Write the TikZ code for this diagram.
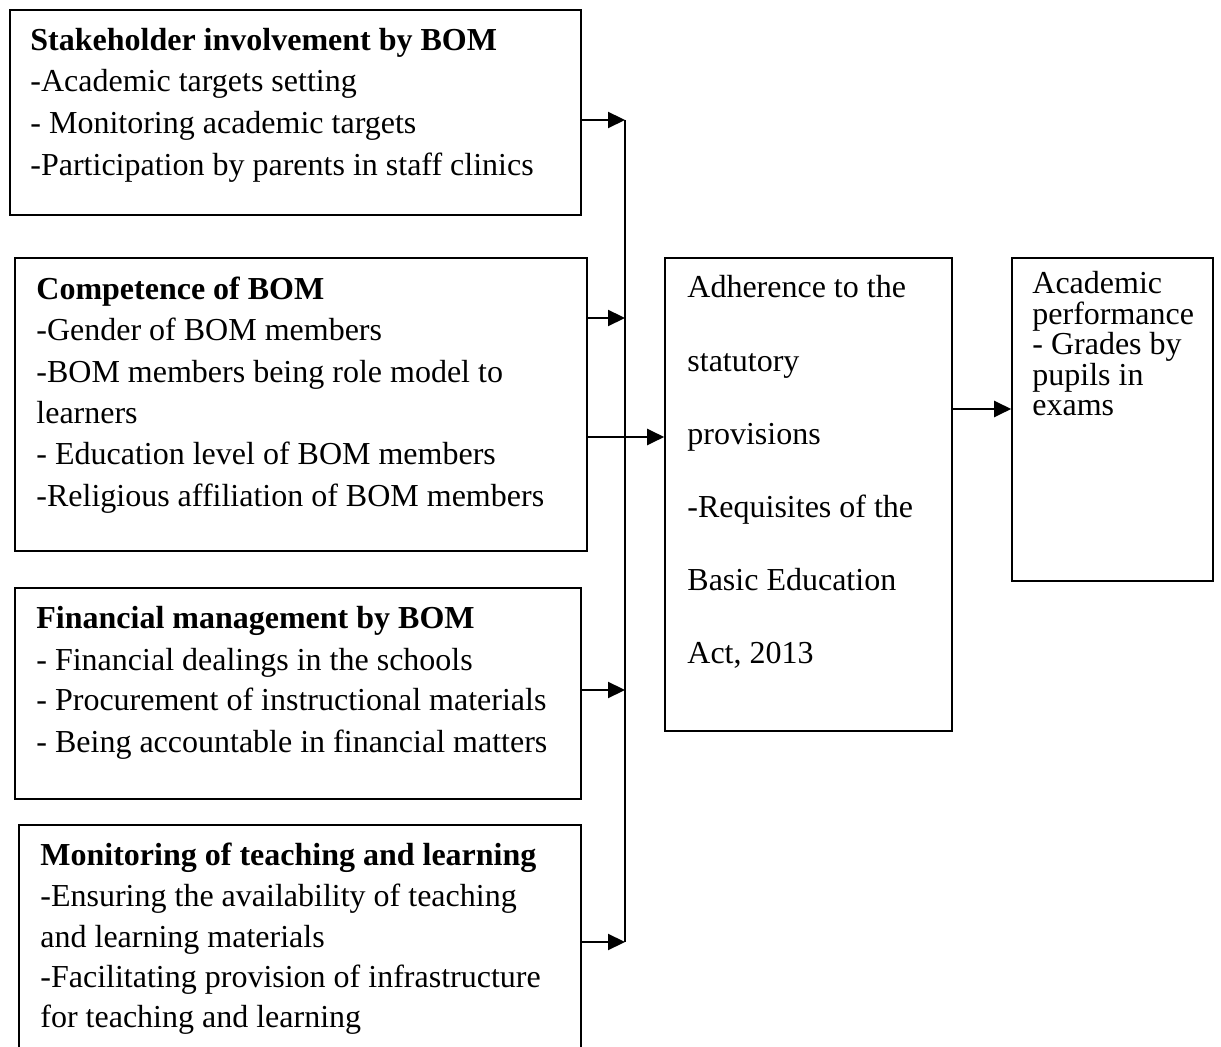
\documentclass[tikz,border=0pt]{standalone}
\usepackage{fontspec}
\setmainfont{Liberation Serif}
\usetikzlibrary{arrows.meta,fit}
\begin{document}
\begin{tikzpicture}[x=0.5pt,y=-0.5pt,
  box/.style={draw, line width=0.8pt, inner sep=0pt},
  txt/.style={anchor=base west, inner sep=0pt, font=\fontsize{16}{19}\selectfont},
  hdr/.style={anchor=base west, inner sep=0pt, font=\fontsize{16}{19}\selectfont\bfseries},
  arr/.style={line width=1.1pt, -{Triangle[length=8.5pt,width=8pt]}},
  bus/.style={line width=1.1pt}]
\clip (0,0) rectangle (1221,1047);
\fill[white] (0,0) rectangle (1221,1047);

% boxes
\node[box, fit={(10,10) (581,215)}] (b1) {};
\node[box, fit={(15,258) (587,551)}] (b2) {};
\node[box, fit={(15,588) (581,799)}] (b3) {};
\node[box, fit={(19,825) (581,1075)}] (b4) {};
\node[box, fit={(665,258) (952,731)}] (mid) {};
\node[box, fit={(1012,258) (1213,581)}] (res) {};

% box 1
\node[hdr] (t10) at (30,51) {Stakeholder involvement by BOM};
\node[txt] (t11) at (30,92) {-Academic targets setting};
\node[txt] (t12) at (30,134) {- Monitoring academic targets};
\node[txt] (t13) at (30,176) {-Participation by parents in staff clinics};

% box 2
\node[hdr] (t20) at (36,300) {Competence of BOM};
\node[txt] (t21) at (36,341) {-Gender of BOM members};
\node[txt] (t22) at (36,383) {-BOM members being role model to};
\node[txt] (t23) at (36,424) {learners};
\node[txt] (t24) at (36,465) {- Education level of BOM members};
\node[txt] (t25) at (36,507) {-Religious affiliation of BOM members};

% box 3
\node[hdr] (t30) at (36,629) {Financial management by BOM};
\node[txt] (t31) at (36,670) {- Financial dealings in the schools};
\node[txt] (t32) at (36,711) {- Procurement of instructional materials};
\node[txt] (t33) at (36,752) {- Being accountable in financial matters};

% box 4
\node[hdr] (t40) at (40,865) {Monitoring of teaching and learning};
\node[txt] (t41) at (40,906) {-Ensuring the availability of teaching};
\node[txt] (t42) at (40,947) {and learning materials};
\node[txt] (t43) at (40,987) {-Facilitating provision of infrastructure};
\node[txt] (t44) at (40,1027) {for teaching and learning};

% middle box
\node[txt] (m1) at (687,298) {Adherence to the};
\node[txt] (m2) at (687,372) {statutory};
\node[txt] (m3) at (687,445) {provisions};
\node[txt] (m4) at (687,518) {-Requisites of the};
\node[txt] (m5) at (687,591) {Basic Education};
\node[txt] (m6) at (687,664) {Act, 2013};

% result box
\node[txt] (r1) at (1032,294) {Academic};
\node[txt] (r2) at (1032,324.5) {performance};
\node[txt] (r3) at (1032,355) {- Grades by};
\node[txt] (r4) at (1032,385.5) {pupils in};
\node[txt] (r5) at (1032,416) {exams};

% connectors
\coordinate (j1) at (625,120);
\coordinate (j2) at (625,318);
\coordinate (k3) at (625,437);
\coordinate (j4) at (625,690);
\coordinate (j5) at (625,942);
\coordinate (k6) at (980,409);

\draw[bus] (j1) -- (j5);
\draw[arr] (b1.east |- j1) -- (j1);
\draw[arr] (b2.east |- j2) -- (j2);
\draw[arr] (b2.east |- k3) -- (mid.west |- k3);
\draw[arr] (b3.east |- j4) -- (j4);
\draw[arr] (b4.east |- j5) -- (j5);
\draw[arr] (mid.east |- k6) -- (res.west |- k6);
\end{tikzpicture}
\end{document}
